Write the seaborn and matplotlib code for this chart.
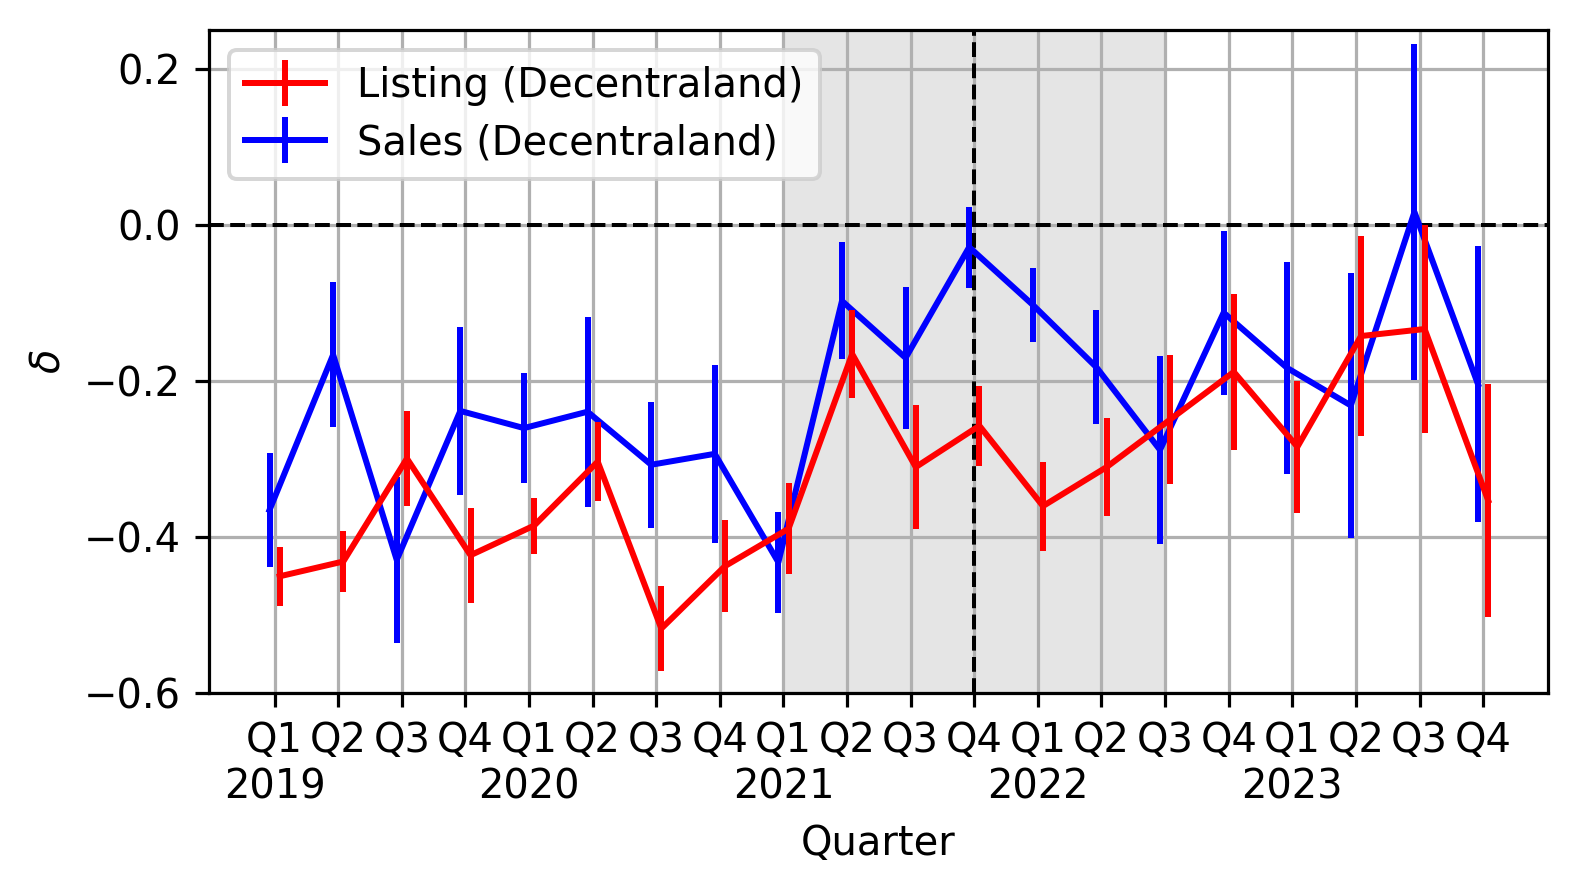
import pandas as pd
import matplotlib
matplotlib.use("Agg")
import matplotlib.pyplot as plt
import seaborn as sns
from matplotlib.lines import Line2D

# Datos
years = [2019, 2020, 2021, 2022, 2023]
quarters = ["Q1", "Q2", "Q3", "Q4"]

listing_delta = [-0.450, -0.431, -0.299, -0.423, -0.385, -0.303, -0.517, -0.437, -0.389, -0.165,
                 -0.310, -0.257, -0.360, -0.310, -0.249, -0.188, -0.284, -0.142, -0.133, -0.353]
listing_err = [0.038, 0.039, 0.061, 0.061, 0.036, 0.051, 0.055, 0.059, 0.058, 0.057,
               0.079, 0.051, 0.057, 0.063, 0.083, 0.100, 0.085, 0.128, 0.133, 0.149]

sales_delta = [-0.365, -0.166, -0.429, -0.238, -0.260, -0.239, -0.307, -0.293, -0.432, -0.097,
               -0.170, -0.028, -0.102, -0.182, -0.288, -0.112, -0.183, -0.231, 0.017, -0.204]
sales_err = [0.073, 0.093, 0.106, 0.108, 0.071, 0.122, 0.081, 0.114, 0.065, 0.075,
             0.091, 0.052, 0.047, 0.073, 0.120, 0.105, 0.136, 0.170, 0.215, 0.177]

tick_labels = [f"{q}\n{y}" if q == "Q1" else q for y in years for q in quarters]
n = len(tick_labels)

df = pd.concat([
    pd.DataFrame({"pos": [i + 0.08 for i in range(n)], "delta": listing_delta,
                  "err": listing_err, "serie": "Listing (Decentraland)"}),
    pd.DataFrame({"pos": [i - 0.08 for i in range(n)], "delta": sales_delta,
                  "err": sales_err, "serie": "Sales (Decentraland)"}),
])
colores = {"Listing (Decentraland)": "red", "Sales (Decentraland)": "blue"}

plt.rcParams["font.size"] = 10
fig, ax = plt.subplots(figsize=(1578 / 288, 890 / 288), dpi=288)
fig.subplots_adjust(left=0.1325, right=0.981, top=0.966, bottom=0.221)

# zona sombreada y referencias
ax.axvspan(8, 14, color="gray", alpha=0.2, lw=0, zorder=1)
ax.axhline(0, color="black", ls="--", lw=1, zorder=2)
ax.axvline(11, color="black", ls="--", lw=1, zorder=2)

# Sales primero, Listing encima
for serie, z in [("Sales (Decentraland)", 3), ("Listing (Decentraland)", 4)]:
    d = df[df["serie"] == serie]
    sns.lineplot(data=d, x="pos", y="delta", color=colores[serie], lw=1.5,
                 errorbar=None, ax=ax, zorder=z)
    ax.errorbar(d["pos"], d["delta"], yerr=d["err"], fmt="none",
                ecolor=colores[serie], elinewidth=1.5, capsize=0, zorder=z)

handles = [Line2D([], [], color=colores[s], lw=1.5, marker="|", markersize=11.5,
                  markeredgewidth=1.5) for s in colores]
ax.legend(handles, list(colores), loc="upper left", labelspacing=0.42)

ax.set_xticks(range(n))
ax.set_xticklabels(tick_labels)
ax.set_xlim(-1.03, 20.02)
ax.set_ylim(-0.6, 0.25)
ax.set_yticks([-0.6, -0.4, -0.2, 0.0, 0.2])
ax.grid(True, color="#b0b0b0", lw=0.8)
ax.set_xlabel("Quarter")
ax.set_ylabel(r"$\delta$")

plt.savefig("out.png", dpi=288)
plt.close()
